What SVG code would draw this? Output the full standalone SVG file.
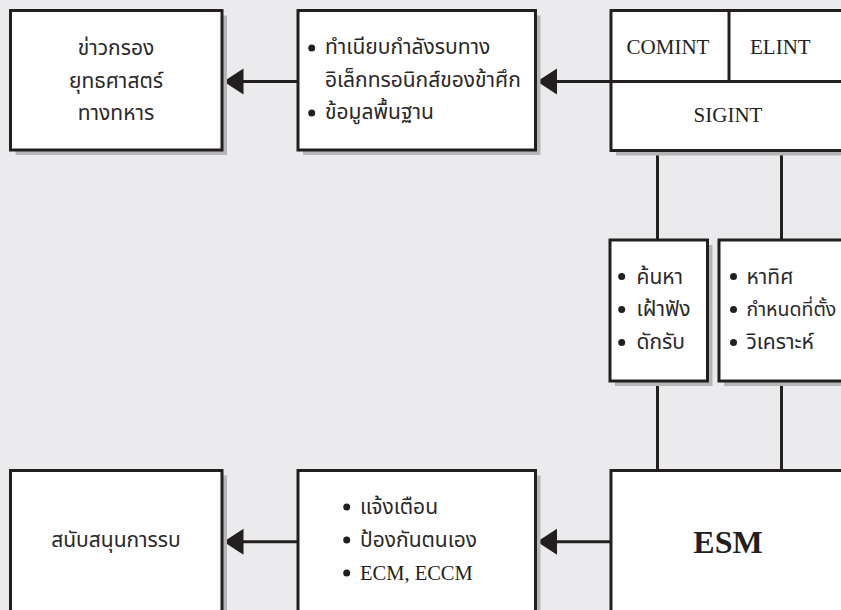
<svg xmlns="http://www.w3.org/2000/svg" width="841" height="610" viewBox="0 0 841 610">
<defs>
<style>
.box{fill:#ffffff;stroke:#231f20;stroke-width:3}
.shadow{fill:#b6b6b9}
.th{font-family:"Noto Sans Thai","Noto Sans","DejaVu Sans",sans-serif;font-size:21px;fill:#2b2829}
.en{font-family:"Liberation Serif","DejaVu Serif",serif;font-size:21px;fill:#231f20}
.bold{font-family:"Liberation Serif","DejaVu Serif",serif;font-size:32px;font-weight:bold;fill:#231f20}
.c{text-anchor:middle}
.line{stroke:#231f20;stroke-width:3;fill:none}
.arrow{fill:#231f20}
.bullet{fill:#231f20}
</style>
</defs>
<rect x="0" y="0" width="841" height="610" fill="#ebebed"/>

<g id="connectors">
<line class="line" x1="298" y1="81.5" x2="240" y2="81.5"/>
<polygon class="arrow" points="223.5,81.5 243.5,68.5 243.5,94.5"/>
<line class="line" x1="611" y1="81.5" x2="554" y2="81.5"/>
<polygon class="arrow" points="537,81.5 557,68.5 557,94.5"/>
<line class="line" x1="298" y1="541.7" x2="240" y2="541.7"/>
<polygon class="arrow" points="223.5,541.7 243.5,528.7 243.5,554.7"/>
<line class="line" x1="611" y1="541.7" x2="554" y2="541.7"/>
<polygon class="arrow" points="537,541.7 557,528.7 557,554.7"/>
<line class="line" x1="657.5" y1="150" x2="657.5" y2="240"/>
<line class="line" x1="781.5" y1="150" x2="781.5" y2="240"/>
<line class="line" x1="657.5" y1="380" x2="657.5" y2="471"/>
<line class="line" x1="781.5" y1="380" x2="781.5" y2="471"/>
</g>

<g id="intel">
<rect class="shadow" x="15.5" y="15.5" width="211.5" height="139.5"/>
<rect class="box" x="10.5" y="10.5" width="211.5" height="139.5"/>
<text class="th c" x="116" y="55">ข่าวกรอง</text>
<text class="th c" x="116" y="87.5">ยุทธศาสตร์</text>
<text class="th c" x="116" y="120">ทางทหาร</text>
</g>

<g id="order">
<rect class="shadow" x="303" y="15.5" width="237.5" height="139.5"/>
<rect class="box" x="298" y="10.5" width="237.5" height="139.5"/>
<circle class="bullet" cx="311.7" cy="48" r="3.5"/>
<text class="th" x="325" y="54">ทำเนียบกำลังรบทาง</text>
<text class="th" x="325" y="87">อิเล็กทรอนิกส์ของข้าศึก</text>
<circle class="bullet" cx="311.7" cy="113" r="3.5"/>
<text class="th" x="325" y="119">ข้อมูลพื้นฐาน</text>
</g>

<g id="sigint">
<rect class="shadow" x="616" y="15.5" width="260" height="140"/>
<rect class="box" x="611" y="10.5" width="260" height="140"/>
<line class="line" x1="611" y1="81.5" x2="871" y2="81.5"/>
<line class="line" x1="729" y1="10.5" x2="729" y2="81.5"/>
<text class="en c" x="668" y="53.5">COMINT</text>
<text class="en" x="750" y="53.5">ELINT</text>
<text class="en c" x="728" y="122">SIGINT</text>
</g>

<g id="search">
<rect class="shadow" x="615" y="245" width="97.5" height="141"/>
<rect class="box" x="610" y="240" width="97.5" height="141"/>
<circle class="bullet" cx="621.7" cy="276.5" r="3.5"/>
<text class="th" x="636.5" y="283.5">ค้นหา</text>
<circle class="bullet" cx="621.7" cy="309.5" r="3.5"/>
<text class="th" x="636.5" y="316">เฝ้าฟัง</text>
<circle class="bullet" cx="621.7" cy="342.5" r="3.5"/>
<text class="th" x="636.5" y="349">ดักรับ</text>
</g>

<g id="locate">
<rect class="shadow" x="724" y="245" width="150" height="141"/>
<rect class="box" x="719" y="240" width="150" height="141"/>
<circle class="bullet" cx="733.5" cy="276.5" r="3.5"/>
<text class="th" x="746.5" y="283.5">หาทิศ</text>
<circle class="bullet" cx="733.5" cy="309.5" r="3.5"/>
<text class="th" x="746.5" y="316" style="font-size:19.5px">กำหนดที่ตั้ง</text>
<circle class="bullet" cx="733.5" cy="342.5" r="3.5"/>
<text class="th" x="746.5" y="349">วิเคราะห์</text>
</g>

<g id="support">
<rect class="shadow" x="15.5" y="475.5" width="211.5" height="160"/>
<rect class="box" x="10.5" y="470.5" width="211.5" height="160"/>
<text class="th c" x="116" y="547">สนับสนุนการรบ</text>
</g>

<g id="use">
<rect class="shadow" x="303" y="475.5" width="237.5" height="160"/>
<rect class="box" x="298" y="470.5" width="237.5" height="160"/>
<circle class="bullet" cx="346.7" cy="507" r="3.5"/>
<text class="th" x="360" y="514">แจ้งเตือน</text>
<circle class="bullet" cx="346.7" cy="540" r="3.5"/>
<text class="th" x="360" y="547">ป้องกันตนเอง</text>
<circle class="bullet" cx="346.7" cy="573" r="3.5"/>
<text class="en" x="360" y="579.5" style="font-size:20.5px">ECM, ECCM</text>
</g>

<g id="esm">
<rect class="box" x="611" y="470.5" width="260" height="160"/>
<text class="bold c" x="728" y="552.5">ESM</text>
</g>
</svg>
